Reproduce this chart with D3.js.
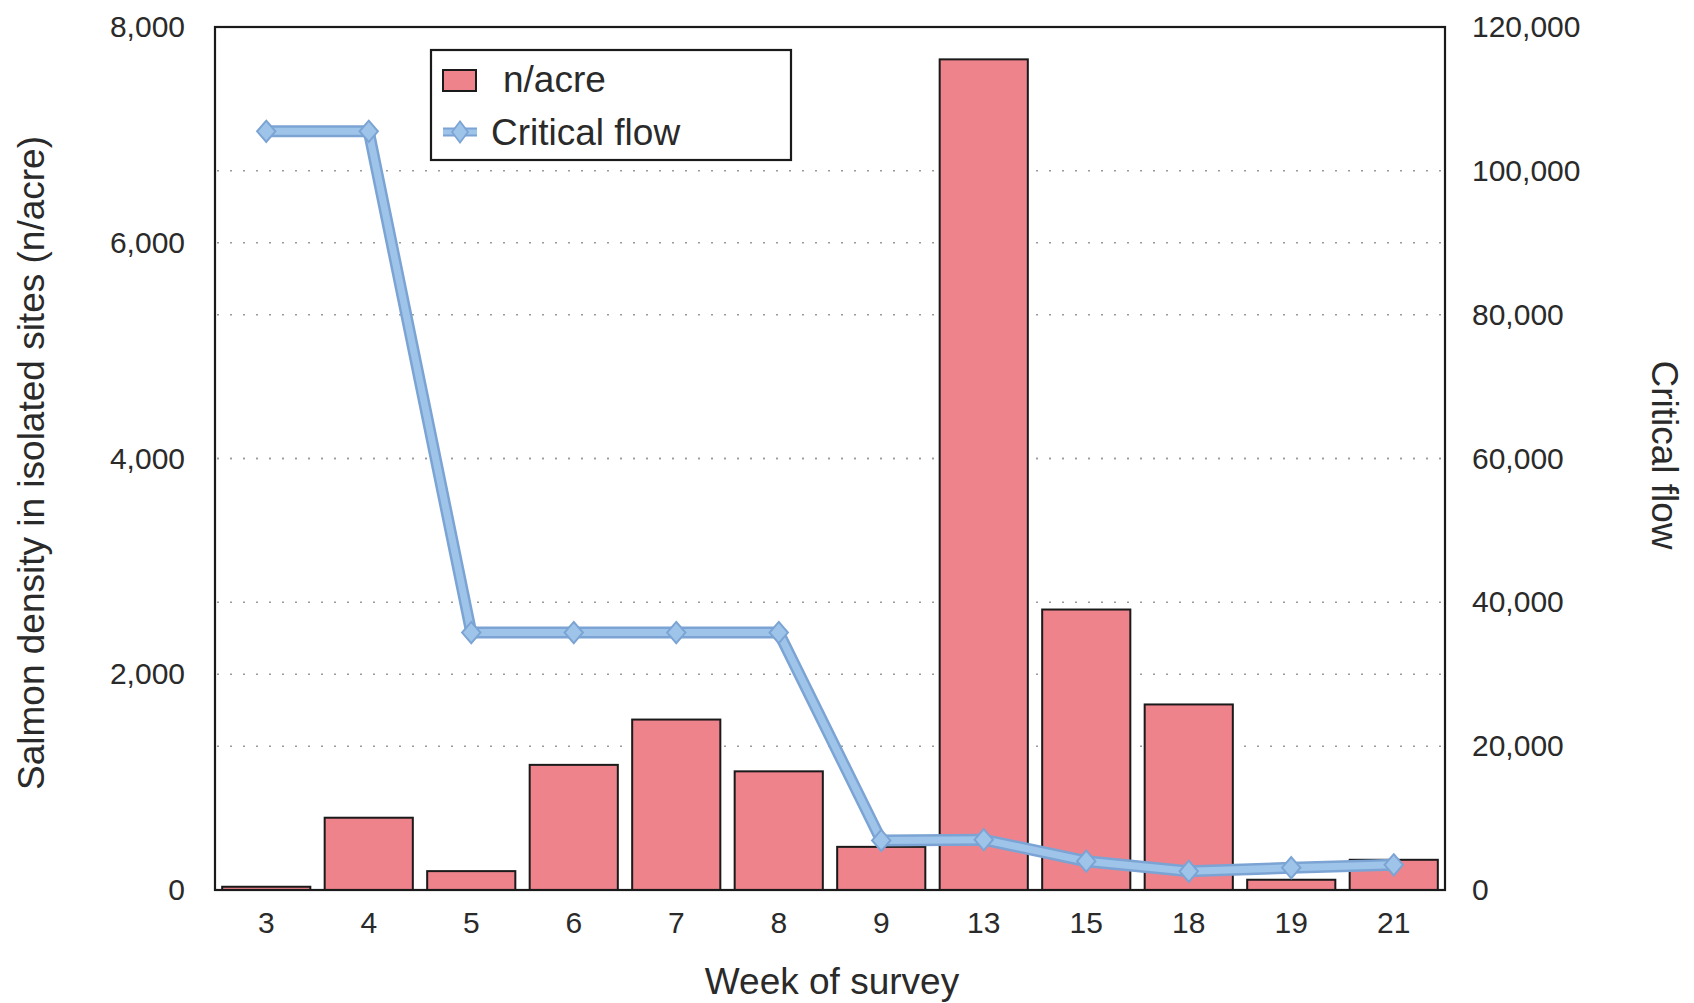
<!DOCTYPE html>
<html><head><meta charset="utf-8">
<script src="https://cdn.jsdelivr.net/npm/d3@7"></script>
<style>
html,body{margin:0;padding:0;background:#fff;}
text{font-family:"Liberation Sans",Arial,sans-serif;fill:#2a2a2a;}
</style></head>
<body>
<script>
const weeks = ["3","4","5","6","7","8","9","13","15","18","19","21"];
const density = [30,670,175,1160,1580,1100,400,7700,2600,1720,95,280];
const criticalFlow = [105500,105500,35800,35800,35800,35800,6900,7000,4000,2600,3100,3500];
const leftTicks = [0,2000,4000,6000,8000];
const rightTicks = [0,20000,40000,60000,80000,100000,120000];
const leftTitle = "Salmon density in isolated sites (n/acre)";
const rightTitle = "Critical flow";
const xTitle = "Week of survey";
const legendLabels = ["n/acre","Critical flow"];

const W = 1694, H = 1003;
const L = 215, R = 1445, T = 27, B = 890;
const barColor = "#ef838c";
const lineEdge = "#7ba4d4", lineCore = "#9fc4e9";

const svg = d3.select("body").append("svg").attr("width", W).attr("height", H);

const x = d3.scaleBand().domain(weeks).range([L, R]).paddingInner(0.14).paddingOuter(0.07);
const yL = d3.scaleLinear().domain([0, 8000]).range([B, T]);
const yR = d3.scaleLinear().domain([0, 120000]).range([B, T]);
const fmt = d3.format(",");

// gridlines (dotted) for both axes
const grid = svg.append("g");
const gl = leftTicks.filter(d => d > 0 && d < 8000).map(d => yL(d));
const gr = rightTicks.filter(d => d > 0 && d < 120000).map(d => yR(d));
gl.concat(gr).forEach(yy => {
  grid.append("line").attr("x1", L + 2).attr("x2", R - 2).attr("y1", yy).attr("y2", yy)
    .attr("stroke", "#9a9a9a").attr("stroke-width", 1.5).attr("stroke-dasharray", "2,11");
});

// bars
svg.append("g").selectAll("rect").data(weeks).join("rect")
  .attr("x", d => x(d))
  .attr("width", x.bandwidth())
  .attr("y", (d, i) => yL(density[i]))
  .attr("height", (d, i) => B - yL(density[i]))
  .attr("fill", barColor).attr("stroke", "#1a1a1a").attr("stroke-width", 2);

// line
const pts = weeks.map((d, i) => [x(d) + x.bandwidth() / 2, yR(criticalFlow[i])]);
const line = d3.line();
svg.append("path").attr("d", line(pts)).attr("fill", "none")
  .attr("stroke", lineEdge).attr("stroke-width", 12).attr("stroke-linejoin", "miter");
svg.append("path").attr("d", line(pts)).attr("fill", "none")
  .attr("stroke", lineCore).attr("stroke-width", 7).attr("stroke-linejoin", "miter");
const diamond = d3.symbol().type(d3.symbolDiamond).size(130);
svg.append("g").selectAll("path").data(pts).join("path")
  .attr("d", diamond)
  .attr("transform", p => `translate(${p[0]},${p[1]}) scale(1.5,1)`)
  .attr("fill", lineCore).attr("stroke", lineEdge).attr("stroke-width", 1.5);

// frame
svg.append("rect").attr("x", L).attr("y", T).attr("width", R - L).attr("height", B - T)
  .attr("fill", "none").attr("stroke", "#1a1a1a").attr("stroke-width", 2.2);

// axes
const axL = d3.axisLeft(yL).tickValues(leftTicks).tickFormat(fmt).tickSize(0).tickPadding(30);
const gL = svg.append("g").attr("transform", `translate(${L},0)`).call(axL);
const axR = d3.axisRight(yR).tickValues(rightTicks).tickFormat(fmt).tickSize(0).tickPadding(27);
const gR = svg.append("g").attr("transform", `translate(${R},0)`).call(axR);
const axB = d3.axisBottom(x).tickSize(0).tickPadding(22);
const gB = svg.append("g").attr("transform", `translate(0,${B})`).call(axB);
[gL, gR, gB].forEach(g => {
  g.select(".domain").remove();
  g.selectAll("text").attr("font-size", 30).attr("fill", "#2a2a2a")
    .style("font-family", '"Liberation Sans",Arial,sans-serif');
});

// titles
svg.append("text").attr("transform", "translate(44,463) rotate(-90)")
  .attr("text-anchor", "middle").attr("font-size", 37).text(leftTitle);
svg.append("text").attr("transform", "translate(1652,455) rotate(90)")
  .attr("text-anchor", "middle").attr("font-size", 37).text(rightTitle);
svg.append("text").attr("x", 832).attr("y", 994)
  .attr("text-anchor", "middle").attr("font-size", 37).text(xTitle);

// legend
const lg = svg.append("g");
lg.append("rect").attr("x", 431).attr("y", 50).attr("width", 360).attr("height", 110)
  .attr("fill", "#fff").attr("stroke", "#1a1a1a").attr("stroke-width", 2.2);
lg.append("rect").attr("x", 443).attr("y", 70).attr("width", 33).attr("height", 21)
  .attr("fill", barColor).attr("stroke", "#1a1a1a").attr("stroke-width", 2);
lg.append("text").attr("x", 503).attr("y", 92).attr("font-size", 37).text(legendLabels[0]);
lg.append("line").attr("x1", 443).attr("x2", 477).attr("y1", 132).attr("y2", 132)
  .attr("stroke", lineEdge).attr("stroke-width", 9);
lg.append("line").attr("x1", 443).attr("x2", 477).attr("y1", 132).attr("y2", 132)
  .attr("stroke", lineCore).attr("stroke-width", 5);
lg.append("path").attr("d", diamond).attr("transform", "translate(460,132) scale(1.3,1)")
  .attr("fill", lineCore).attr("stroke", lineEdge).attr("stroke-width", 1.5);
lg.append("text").attr("x", 491).attr("y", 145).attr("font-size", 37).text(legendLabels[1]);
</script>
</body></html>
